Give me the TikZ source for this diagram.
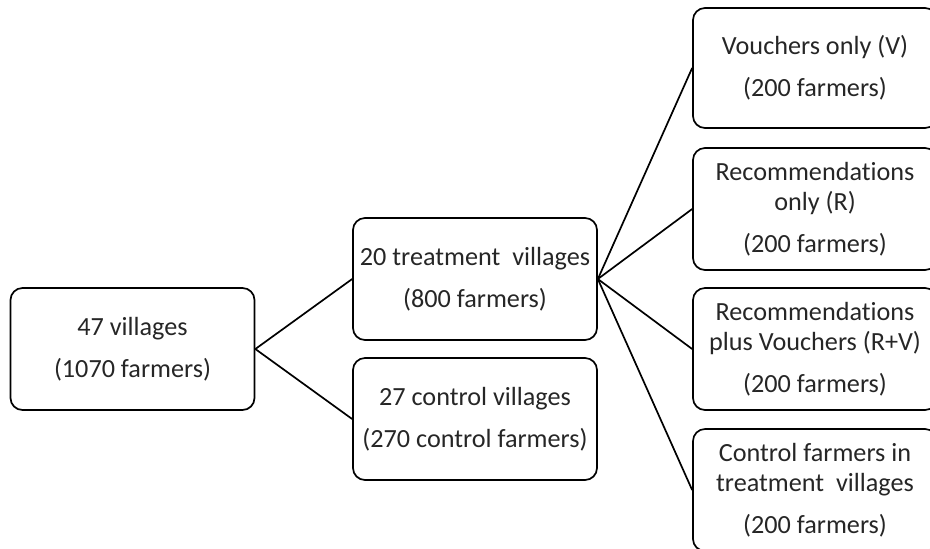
\documentclass[tikz,border=0pt]{standalone}
\usepackage{fontspec}
\setmainfont{Carlito}[Ligatures={NoCommon}]
\definecolor{txt}{HTML}{262626}
\begin{document}
\begin{tikzpicture}[x=0.5pt,y=-0.5pt,
  box/.style={draw=black, line width=0.85pt, rounded corners=6pt,
    minimum width=122pt, minimum height=61pt, align=center, inner sep=0pt,
    font=\fontsize{13.1}{15}\selectfont, text=txt},
  link/.style={draw=black, line width=0.85pt}]
\clip (0,0) rectangle (930,548);
\node[box] (all) at (132.5,349) {47 villages\\[6pt](1070 farmers)};
\node[box] (treat) at (475,279) {20 treatment\ \ villages\\[6pt](800 farmers)};
\node[box] (ctrl) at (475,419) {27 control villages\\[6pt](270 control farmers)};
\node[box, minimum height=60pt] (v) at (815,68) {Vouchers only (V)\\[6pt](200 farmers)};
\node[box] (r) at (815,209) {Recommendations\\only (R)\\[6pt](200 farmers)};
\node[box] (rv) at (815,349) {Recommendations\\plus Vouchers (R+V)\\[6pt](200 farmers)};
\node[box] (c) at (815,490) {Control farmers in\\treatment\ \ villages\\[6pt](200 farmers)};
\draw[link] (all.east) -- (treat.west);
\draw[link] (all.east) -- (ctrl.west);
\draw[link] (treat.east) -- (v.west);
\draw[link] (treat.east) -- (r.west);
\draw[link] (treat.east) -- (rv.west);
\draw[link] (treat.east) -- (c.west);
\end{tikzpicture}
\end{document}
